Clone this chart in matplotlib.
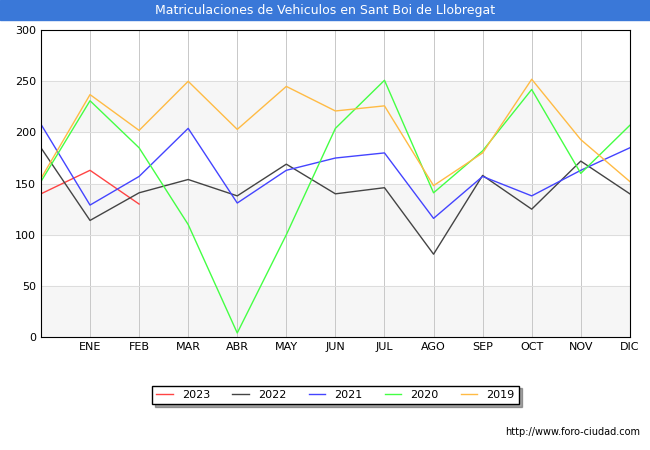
import matplotlib
matplotlib.use('Agg')
import matplotlib.pyplot as plt

months = ['', 'ENE', 'FEB', 'MAR', 'ABR', 'MAY', 'JUN', 'JUL', 'AGO', 'SEP', 'OCT', 'NOV', 'DIC']
v2023 = [140, 163, 130]
v2022 = [185, 114, 141, 154, 138, 169, 140, 146, 81, 158, 125, 172, 140]
v2021 = [208, 129, 157, 204, 131, 163, 175, 180, 116, 157, 138, 163, 185]
v2020 = [152, 231, 185, 110, 4, 100, 204, 251, 141, 182, 242, 160, 207]
v2019 = [155, 237, 202, 250, 203, 245, 221, 226, 148, 180, 252, 193, 152]

series = [('2023', v2023, '#ff4444'), ('2022', v2022, '#444444'),
          ('2021', v2021, '#4444ff'), ('2020', v2020, '#44ff44'),
          ('2019', v2019, '#ffbb44')]

fig = plt.figure(figsize=(6.5, 4.5), dpi=100)
ax = fig.add_axes([0.063, 0.251, 0.906, 0.682])
fig.patches.append(plt.Rectangle((0, 0.955), 1, 0.045, transform=fig.transFigure,
                                 color='#3a78d8', zorder=0))
fig.text(0.5, 0.977, 'Matriculaciones de Vehiculos en Sant Boi de Llobregat',
         ha='center', va='center', color='white', fontsize=9)

# franjas grises 0-50, 100-150, 200-250
for lo in (0, 100, 200):
    ax.axhspan(lo, lo + 50, color='#f6f6f6', zorder=0)
for name, vals, c in series:
    ax.plot(range(len(vals)), vals, color=c, lw=1.0, label=name)

ax.set_xlim(0, 12)
ax.set_ylim(0, 300)
ax.set_xticks(range(13))
ax.set_xticklabels(months, fontsize=8)
ax.set_yticks(range(0, 301, 50))
ax.tick_params(labelsize=8, length=0)
ax.grid(axis='y', color='#dddddd', lw=0.7)
ax.grid(axis='x', color='#c8c8c8', lw=0.7)
ax.set_axisbelow(True)

leg = ax.legend(loc='upper center', bbox_to_anchor=(0.5, -0.14), ncol=5, fontsize=8,
                frameon=True, fancybox=False, shadow=True, edgecolor='black',
                handlelength=1.5, borderpad=0.4)
fig.text(0.985, 0.033, 'http://www.foro-ciudad.com', ha='right', fontsize=7)
fig.savefig('out.png')
